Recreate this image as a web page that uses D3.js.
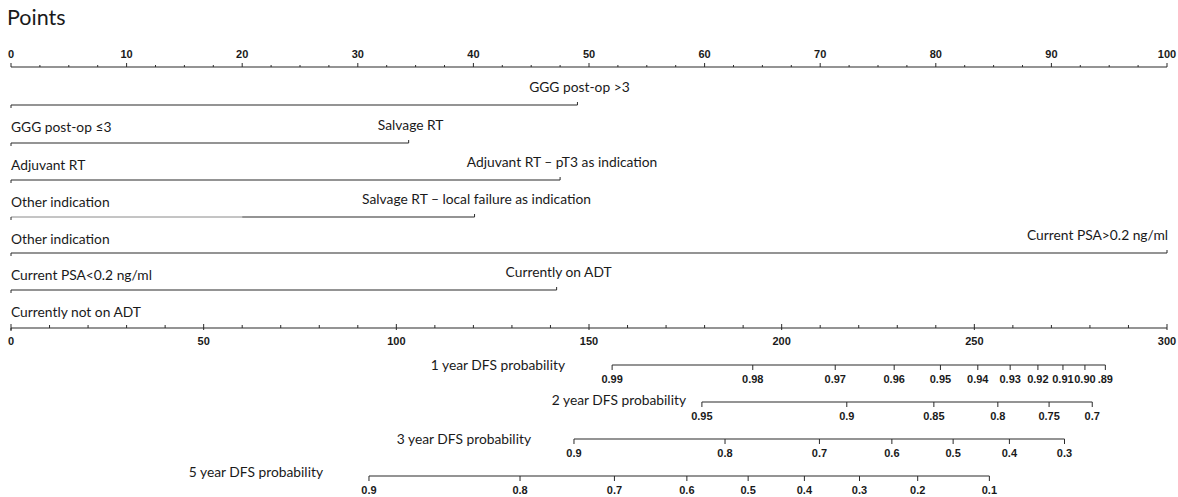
<!DOCTYPE html>
<html>
<head>
<meta charset="utf-8">
<script src="https://cdn.jsdelivr.net/npm/d3@7"></script>
<style>
  html, body { margin: 0; padding: 0; background: #fff; }
  svg { display: block; }
  .lbl { font-family: Lato, "Noto Sans", sans-serif; font-size: 13.8px; fill: #1a1a1a; }
  .tick { font-family: "Liberation Sans", Arial, sans-serif; font-size: 11px; font-weight: bold; fill: #1a1a1a; }
</style>
</head>
<body>
<svg id="chart" width="1178" height="497"></svg>
<script>
// ---- Data ----
const pointsTickLabels = [0, 10, 20, 30, 40, 50, 60, 70, 80, 90, 100];
const totalTickLabels = [0, 50, 100, 150, 200, 250, 300];

const rowLowLabels = ["GGG post-op \u22643", "Adjuvant RT", "Other indication", "Other indication",
                      "Current PSA<0.2 ng/ml", "Currently not on ADT"];
const rowHighLabels = ["GGG post-op >3", "Salvage RT", "Adjuvant RT \u2013 pT3 as indication",
                       "Salvage RT \u2013 local failure as indication", "Current PSA>0.2 ng/ml", "Currently on ADT"];
const rowHighPoints = [49.0, 34.4, 47.5, 40.1, 100, 47.2];
const rowGreyUntil = [0, 0, 0, 20, 0, 0];

const dfsTitles = ["1 year DFS probability", "2 year DFS probability", "3 year DFS probability", "5 year DFS probability"];
const dfs1Labels = ["0.99", "0.98", "0.97", "0.96", "0.95", "0.94", "0.93", "0.92", "0.91", "0.90", ".89"];
const dfs1Points = [156, 192.5, 213.9, 229.2, 241.2, 250.9, 259.3, 266.5, 273.0, 278.7, 284.0];
const dfs2Labels = ["0.95", "0.9", "0.85", "0.8", "0.75", "0.7"];
const dfs2Points = [179.3, 216.9, 239.5, 256.1, 269.4, 280.6];
const dfs3Labels = ["0.9", "0.8", "0.7", "0.6", "0.5", "0.4", "0.3"];
const dfs3Points = [146.1, 185.3, 209.8, 228.6, 244.5, 259.1, 273.4];
const dfs5Labels = ["0.9", "0.8", "0.7", "0.6", "0.5", "0.4", "0.3", "0.2", "0.1"];
const dfs5Points = [92.9, 132.1, 156.6, 175.4, 191.3, 205.9, 220.2, 235.3, 253.9];

// ---- Layout ----
const svg = d3.select("#chart");
const x = d3.scaleLinear().domain([0, 100]).range([11, 1167]);
const xt = d3.scaleLinear().domain([0, 300]).range([11, 1167]);
const stroke = "#2a2a2a";

svg.append("text").attr("class", "lbl").attr("x", 7).attr("y", 25)
   .style("font-size", "21.5px").text("Points");

// Top points axis
const yTop = 67;
const gTop = svg.append("g");
gTop.append("line").attr("x1", x(0)).attr("x2", x(100)).attr("y1", yTop).attr("y2", yTop)
    .attr("stroke", stroke).attr("stroke-width", 1.2);
const minorTop = d3.range(0, 100.01, 2.5);
gTop.selectAll("line.mt").data(minorTop).join("line")
    .attr("x1", d => x(d)).attr("x2", d => x(d))
    .attr("y1", yTop).attr("y2", d => (d % 10 === 0) ? yTop - 4 : yTop - 2)
    .attr("stroke", stroke).attr("stroke-width", 1);
gTop.selectAll("text").data(pointsTickLabels).join("text").attr("class", "tick")
    .attr("x", d => x(d)).attr("y", 58).attr("text-anchor", "middle").text(d => d);

// Variable rows
const rowY = [105, 143, 180, 217, 253, 290];
rowY.forEach((y, i) => {
  const g = svg.append("g");
  const end = rowHighPoints[i];
  const grey = rowGreyUntil[i];
  if (grey > 0) {
    g.append("line").attr("x1", x(0)).attr("x2", x(grey)).attr("y1", y).attr("y2", y)
     .attr("stroke", "#8a8a8a").attr("stroke-width", 1);
  }
  g.append("line").attr("x1", x(grey)).attr("x2", x(end)).attr("y1", y).attr("y2", y)
   .attr("stroke", stroke).attr("stroke-width", 1.2);
  g.append("line").attr("x1", x(0)).attr("x2", x(0)).attr("y1", y).attr("y2", y + 3)
   .attr("stroke", stroke).attr("stroke-width", 1);
  g.append("line").attr("x1", x(end)).attr("x2", x(end)).attr("y1", y).attr("y2", y - 3)
   .attr("stroke", stroke).attr("stroke-width", 1);
  const hi = g.append("text").attr("class", "lbl").attr("y", y - 13).text(rowHighLabels[i]);
  if (end >= 100) hi.attr("x", x(end) + 1).attr("text-anchor", "end");
  else hi.attr("x", x(end) + 2).attr("text-anchor", "middle");
  g.append("text").attr("class", "lbl").attr("x", x(0)).attr("y", y + 27).text(rowLowLabels[i]);
});

// Total points axis
const yTot = 328;
const gTot = svg.append("g");
gTot.append("line").attr("x1", xt(0)).attr("x2", xt(300)).attr("y1", yTot).attr("y2", yTot)
    .attr("stroke", stroke).attr("stroke-width", 1.2);
gTot.selectAll("line.t").data(d3.range(0, 300.01, 10)).join("line")
    .attr("x1", d => xt(d)).attr("x2", d => xt(d))
    .attr("y1", d => (d % 50 === 0) ? yTot + 2 : yTot)
    .attr("y2", d => (d % 50 === 0) ? yTot - 4 : yTot - 3)
    .attr("stroke", stroke).attr("stroke-width", 1);
gTot.append("line").attr("x1", xt(0)).attr("x2", xt(0)).attr("y1", yTot).attr("y2", yTot + 3)
    .attr("stroke", stroke);
gTot.selectAll("text").data(totalTickLabels).join("text").attr("class", "tick")
    .attr("x", d => xt(d)).attr("y", 345).attr("text-anchor", "middle").text(d => d);

// DFS probability axes
const dfsSets = [
  { labels: dfs1Labels, pts: dfs1Points, y: 365, titleX: 565, titleY: 370 },
  { labels: dfs2Labels, pts: dfs2Points, y: 402, titleX: 686, titleY: 405 },
  { labels: dfs3Labels, pts: dfs3Points, y: 439, titleX: 531, titleY: 444 },
  { labels: dfs5Labels, pts: dfs5Points, y: 476, titleX: 323, titleY: 477 }
];
dfsSets.forEach((s, i) => {
  const g = svg.append("g");
  g.append("line").attr("x1", xt(s.pts[0])).attr("x2", xt(s.pts[s.pts.length - 1]))
   .attr("y1", s.y).attr("y2", s.y).attr("stroke", stroke).attr("stroke-width", 1.2);
  g.selectAll("line.k").data(s.pts).join("line")
   .attr("x1", d => xt(d)).attr("x2", d => xt(d)).attr("y1", s.y).attr("y2", s.y + 5)
   .attr("stroke", stroke).attr("stroke-width", 1);
  g.selectAll("text.k").data(s.labels).join("text").attr("class", "tick")
   .attr("x", (d, j) => xt(s.pts[j])).attr("y", s.y + 18).attr("text-anchor", "middle").text(d => d);
  g.append("text").attr("class", "lbl").attr("x", s.titleX).attr("y", s.titleY)
   .attr("text-anchor", "end").text(dfsTitles[i]);
});
</script>
</body>
</html>
